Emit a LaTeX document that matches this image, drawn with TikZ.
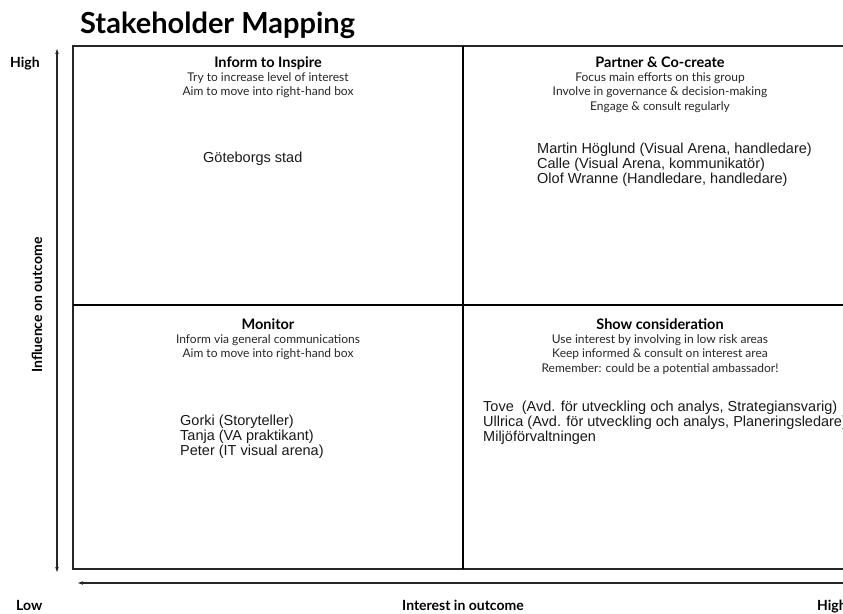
\documentclass[tikz,border=0pt]{standalone}
\usepackage{fontspec}
\setmainfont{Lato}
\newfontfamily\namefont{Liberation Sans}
\usetikzlibrary{arrows.meta}

\begin{document}
\begin{tikzpicture}[x=1pt,y=-1pt,
	frame/.style={draw=black!85, line width=1.7pt},
	divider/.style={draw=black, line width=1.5pt},
	axis/.style={draw=black!85, line width=1.1pt, {Stealth[length=5pt,width=3.5pt]}-{Stealth[length=5pt,width=3.5pt]}},
	heading/.style={anchor=base, inner sep=0pt, font=\fontsize{14.5}{16}\selectfont\bfseries},
	hint/.style={anchor=north, inner sep=0pt, align=center, text=black!85, font=\fontsize{12}{14.5}\selectfont},
	names/.style={anchor=north west, inner sep=0pt, align=left, text=black!90, font=\namefont\fontsize{14.5}{14.8}\selectfont},
	axislabel/.style={inner sep=0pt, font=\fontsize{14}{16}\selectfont\bfseries}]
	\useasboundingbox (0,0) rectangle (843,613);
	\clip (0,0) rectangle (843,613);

	% title
	\node[anchor=base west, inner sep=0pt, font=\fontsize{29}{32}\selectfont\bfseries] (title) at (80,33) {Stakeholder Mapping};

	% 2x2 grid
	\draw[frame] (73,46) rectangle (857,569);
	\draw[divider] (463,46) -- (463,569);
	\draw[divider] (73,305) -- (857,305);

	% quadrant headings
	\node[heading] (inform) at (268,67) {Inform to Inspire};
	\node[heading] (partner) at (660,67) {Partner \& Co-create};
	\node[heading] (monitor) at (268,329) {Monitor};
	\node[heading] (consider) at (660,329) {Show consideration};

	% quadrant hints
	\node[hint] (informhint) at (268,72) {Try to increase level of interest\\Aim to move into right-hand box};
	\node[hint] (partnerhint) at (660,72) {Focus main efforts on this group\\Involve in governance \& decision-making\\Engage \& consult regularly};
	\node[hint] (monitorhint) at (268,334) {Inform via general communications\\Aim to move into right-hand box};
	\node[hint] (considerhint) at (660,334) {Use interest by involving in low risk areas\\Keep informed \& consult on interest area\\Remember: could be a potential ambassador!};

	% stakeholders
	\node[names] (city) at (203,152) {Göteborgs stad};
	\node[names] (partners) at (537,143) {Martin Höglund (Visual Arena, handledare)\\Calle (Visual Arena, kommunikatör)\\Olof Wranne (Handledare, handledare)};
	\node[names] (monitored) at (180,415) {Gorki (Storyteller)\\Tanja (VA praktikant)\\Peter (IT visual arena)};
	\node[names] (considered) at (483,401) {Tove\ \ (Avd. för utveckling och analys, Strategiansvarig)\\Ullrica (Avd. för utveckling och analys, Planeringsledare)\\Miljöförvaltningen};

	% axes
	\coordinate (ytop) at (57,49);
	\coordinate (ybottom) at (57,572);
	\coordinate (xleft) at (78,583);
	\coordinate (xright) at (875,583);
	\draw[axis] (ytop) -- (ybottom);
	\draw[axis] (xleft) -- (xright);

	% axis labels
	\node[axislabel, anchor=base west] (yhigh) at (10,67) {High};
	\node[axislabel, rotate=90] (ylabel) at (37,305) {Influence on outcome};
	\node[axislabel, anchor=base west] (xlow) at (16,610) {Low};
	\node[axislabel, anchor=base] (xlabel) at (463,610) {Interest in outcome};
	\node[axislabel, anchor=base west] (xhigh) at (817,610) {High};
\end{tikzpicture}
\end{document}
